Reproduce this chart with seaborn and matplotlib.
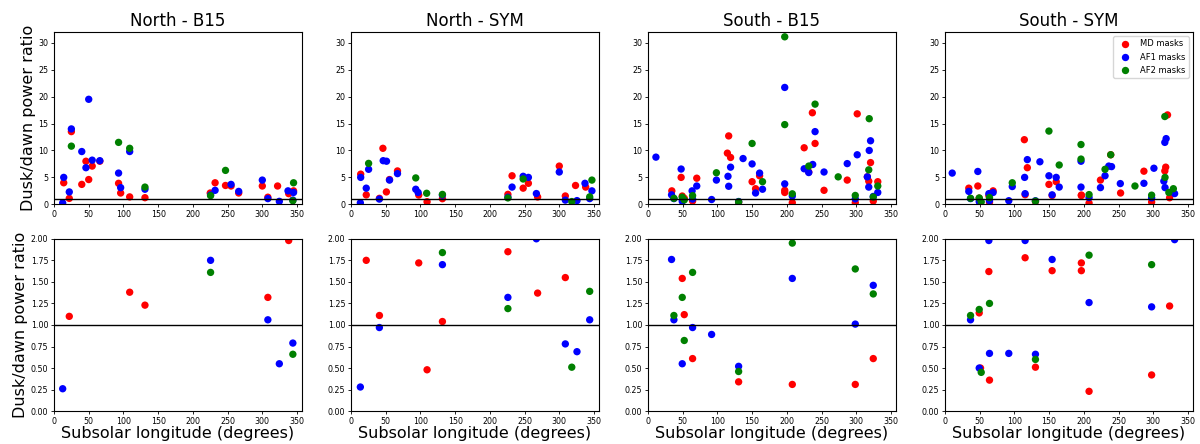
import numpy as np
import pandas as pd
import matplotlib
matplotlib.use("Agg")
import matplotlib.pyplot as plt
import seaborn as sns

# (subsolar longitude, dusk/dawn power ratio) per mask and panel
north_b15_md = [(14, 4.0), (22, 1.10), (25, 13.5), (40, 3.7), (46, 8.0), (50, 4.6), (55, 7.1),
                (66, 8.0), (93, 3.9), (96, 2.1), (109, 1.38), (131, 1.23), (225, 2.1), (232, 4.0),
                (247, 3.5), (255, 3.4), (266, 2.1), (300, 3.4), (308, 1.32), (322, 3.4),
                (338, 1.98), (345, 2.5)]
north_b15_af1 = [(14, 5.0), (12.5, 0.26), (22, 2.3), (25, 14.0), (40, 9.8), (46, 6.8), (50, 19.5),
                 (55, 8.2), (66, 8.1), (93, 5.8), (96, 3.1), (109, 9.8), (131, 2.8), (225.5, 1.75),
                 (232, 2.6), (255, 3.7), (266, 2.4), (300, 4.5), (308, 1.06), (324.5, 0.55),
                 (337, 2.5), (344, 0.79), (345, 2.2)]
north_b15_af2 = [(25, 10.8), (93, 11.5), (109, 10.4), (131, 3.2), (225.5, 1.61), (247, 6.3),
                 (344, 0.66), (345, 4.0)]

north_sym_md = [(14, 5.6), (22, 1.75), (41, 1.11), (46, 10.4), (51, 2.3), (55.5, 4.6), (67, 6.2),
                (97.6, 1.72), (109.6, 0.48), (131.7, 1.04), (226, 1.85), (232, 5.3), (248, 3.0),
                (255.5, 3.9), (268.8, 1.37), (300, 7.1), (308.7, 1.55), (323.4, 3.5), (338, 3.2)]
north_sym_af1 = [(14, 5.0), (13.5, 0.28), (22, 3.0), (25.4, 6.5), (40.9, 0.97), (46.4, 8.1),
                 (51.2, 8.0), (55.5, 4.5), (67, 5.7), (93.3, 2.8), (96.7, 2.2), (131.7, 1.70),
                 (226, 1.32), (232, 3.2), (248, 5.2), (255.5, 5.0), (267, 2.0), (300, 6.0),
                 (308.7, 0.78), (325.5, 0.69), (337, 3.9), (343.8, 1.06), (347, 2.5)]
north_sym_af2 = [(25.4, 7.6), (93.3, 4.9), (109, 2.05), (131.7, 1.84), (226, 1.19), (248, 4.7),
                 (318, 0.51), (343.8, 1.39), (347, 4.5)]

south_b15_md = [(34.4, 2.5), (47.8, 5.0), (49.4, 1.54), (52.3, 1.12), (64.3, 0.61), (70.3, 4.85),
                (114.4, 9.5), (116.3, 12.7), (119, 8.7), (130.6, 0.34), (150, 4.2), (155, 2.9),
                (160.8, 5.3), (197, 2.6), (197, 2.2), (207.9, 0.31), (225, 10.5), (231.6, 6.0),
                (236.8, 17.0), (240.7, 11.3), (253.6, 2.6), (287, 4.5), (298.6, 0.31),
                (301.4, 16.8), (316, 5.1), (318, 4.3), (320.6, 7.75), (324.5, 0.61), (331, 4.2)]
south_b15_af1 = [(11.5, 8.76), (34, 1.76), (37.4, 1.06), (47.8, 6.55), (49.4, 0.55), (63.6, 2.5),
                 (64.3, 0.97), (70.3, 3.4), (91.7, 0.89), (98.6, 4.5), (115.3, 5.2), (116.3, 3.35),
                 (119, 6.9), (130.6, 0.52), (137, 8.5), (150, 7.5), (155, 2.1), (160.8, 5.8),
                 (165, 2.8), (197, 21.7), (197, 3.8), (207.9, 1.54), (225, 6.6), (231.6, 5.9),
                 (237.3, 7.4), (240.7, 13.5), (253.6, 6.0), (287, 7.56), (298.6, 1.01),
                 (301.4, 9.2), (316, 5.1), (318, 3.2), (318.7, 10.0), (320.6, 11.8),
                 (324.5, 1.46), (331, 2.2)]
south_b15_af2 = [(37.4, 1.11), (49.4, 1.32), (52.3, 0.82), (64.3, 1.61), (98.6, 5.86), (130.6, 0.46),
                 (150, 11.3), (165, 4.2), (197, 31.1), (197, 14.8), (207.9, 1.95), (231.6, 7.1),
                 (240.7, 18.6), (274, 5.1), (298.6, 1.65), (318, 6.4), (318.7, 15.9),
                 (324.5, 1.36), (331, 3.4)]

south_sym_md = [(34.4, 3.0), (47.4, 3.4), (49.4, 1.14), (51.3, 0.50), (63.3, 1.62), (64.2, 0.36),
                (69.4, 2.5), (114.4, 12.0), (115.5, 1.78), (118.7, 6.8), (130.4, 0.51),
                (149.8, 3.7), (154.4, 1.63), (160.3, 4.2), (196.5, 1.72), (196.5, 1.63),
                (207.6, 0.23), (224, 4.5), (238.8, 9.2), (253, 2.1), (286.6, 6.15), (297.7, 0.42),
                (316.7, 6.2), (318, 6.9), (320.6, 16.6), (323.6, 1.22)]
south_sym_af1 = [(10.5, 5.8), (34.4, 2.4), (36.9, 1.06), (47.4, 6.1), (49.4, 0.50), (63.3, 1.98),
                 (64.2, 0.67), (69.4, 2.2), (92, 0.67), (97, 3.3), (114.8, 5.0), (115.5, 1.98),
                 (118.7, 8.3), (130.4, 0.66), (136.8, 7.9), (149.8, 5.3), (154.4, 1.76),
                 (160.3, 5.0), (164.6, 3.2), (196, 8.0), (196, 3.2), (207.6, 1.26), (224, 3.1),
                 (230.6, 5.3), (236, 7.1), (240, 7.0), (252.6, 3.85), (286.6, 3.9), (297.7, 1.21),
                 (301, 6.7), (315.3, 4.3), (316.7, 11.5), (317, 3.1), (318.6, 12.2), (330.8, 1.99)]
south_sym_af2 = [(36.9, 1.11), (49.4, 1.18), (52.3, 0.45), (64.2, 1.25), (97, 4.0), (130.4, 0.60),
                 (149.8, 13.6), (164.6, 7.3), (196, 11.1), (196, 8.4), (207.6, 1.81), (230.6, 6.5),
                 (238.8, 9.2), (273.7, 3.4), (297.7, 1.70), (316.7, 16.3), (317, 5.0),
                 (322.5, 2.2), (329, 2.9)]

panel_titles = ["North - B15", "North - SYM", "South - B15", "South - SYM"]
mask_labels = ["MD masks", "AF1 masks", "AF2 masks"]
mask_colors = ["red", "blue", "green"]

panels = [
    [north_b15_md, north_b15_af1, north_b15_af2],
    [north_sym_md, north_sym_af1, north_sym_af2],
    [south_b15_md, south_b15_af1, south_b15_af2],
    [south_sym_md, south_sym_af1, south_sym_af2],
]

rows = []
for title, series in zip(panel_titles, panels):
    for label, pts in zip(mask_labels, series):
        for lon, ratio in pts:
            rows.append({"panel": title, "mask": label, "lon": lon, "ratio": ratio})
df = pd.DataFrame(rows)

fig, axes = plt.subplots(2, 4, figsize=(12, 4.44), dpi=100)
fig.subplots_adjust(left=0.045, right=0.994, top=0.928, bottom=0.074, wspace=0.198, hspace=0.2)

palette = dict(zip(mask_labels, mask_colors))
for r, ylim in enumerate([(0, 32), (0, 2)]):
    for c, title in enumerate(panel_titles):
        ax = axes[r, c]
        sub = df[df["panel"] == title]
        show_leg = (r == 0 and c == 3)
        sns.scatterplot(data=sub, x="lon", y="ratio", hue="mask", hue_order=mask_labels,
                        palette=palette, s=28, linewidth=0, ax=ax, legend=show_leg)
        ax.axhline(1, color="black", linewidth=1)
        ax.set_xlim(0, 357)
        ax.set_ylim(*ylim)
        ax.tick_params(labelsize=5.7, length=2.5, width=0.6, pad=1.5)
        for sp in ax.spines.values():
            sp.set_linewidth(0.8)
        ax.set_xlabel("Subsolar longitude (degrees)" if r == 1 else "", fontsize=11.5, labelpad=0)
        ax.set_ylabel("Dusk/dawn power ratio" if c == 0 else "", fontsize=11.5, labelpad=2)
        if r == 0:
            ax.set_title(title, fontsize=12, pad=4)
        if r == 1:
            ax.yaxis.set_major_formatter(matplotlib.ticker.FormatStrFormatter("%.2f"))
        if show_leg:
            sns.move_legend(ax, "upper right", title=None, fontsize=6, markerscale=1.0)

fig.savefig("out.png", dpi=100)
